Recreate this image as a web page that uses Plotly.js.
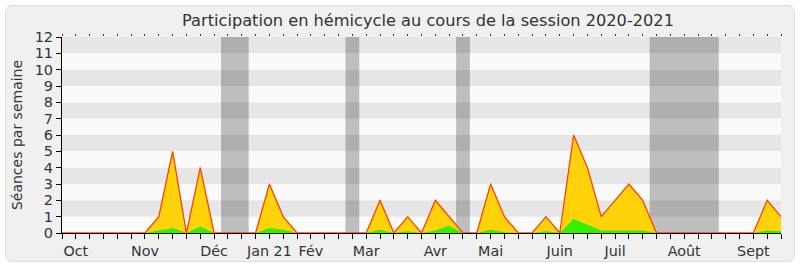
<!DOCTYPE html>
<html>
<head>
<meta charset="utf-8">
<script src="https://cdn.plot.ly/plotly-3.0.1.min.js"></script>
<style>
  html, body { margin:0; padding:0; background:#ffffff; }
  #frame { position:absolute; left:5px; top:5px; width:788px; height:255px;
           background:#f0f0f0; border:1px solid #dcdcdc; border-radius:7px; }
  #chart { position:absolute; left:0; top:0; width:800px; height:267px; }
</style>
</head>
<body>
<div id="frame"></div>
<div id="chart"></div>
<script>
// Weekly data, index 0 = first week of October 2020 ... 52 = end of September 2021
const semaines = Array.from({length: 53}, (_, i) => i);
const presences = [0,0,0,0,0,0,0,1,5,0,4,0,0,0,0,3,1,0,0,0,0,0,0,2,0,1,0,2,1,0,0,3,1,0,0,1,0,6,4,1,2,3,2,0,0,0,0,0,0,0,0,2,1];
const interventions = [0,0,0,0,0,0,0,0.15,0.3,0,0.4,0,0,0,0,0.3,0.2,0,0,0,0,0,0,0.2,0,0.1,0,0.15,0.45,0,0,0.2,0.05,0,0,0.1,0,0.85,0.5,0.15,0.15,0.15,0.15,0,0,0,0,0,0,0,0,0.15,0.1];
const moisPositions = [1,6,11,15,18,22,27,31,36,40,45,50];
const moisLabels = ["Oct","Nov","Déc","Jan 21","Fév","Mar","Avr","Mai","Juin","Juil","Août","Sept"];
const vacances = [[11.5,13.5],[20.5,21.5],[28.5,29.5],[42.5,47.5]];
const yMax = 12;

const FONT = "DejaVu Sans, Verdana, sans-serif";
const shapes = [];
for (let k = 1; k < yMax; k += 2) {
  shapes.push({type:'rect', layer:'below', xref:'paper', yref:'y', x0:0, x1:1, y0:k, y1:k+1,
               fillcolor:'#e6e6e6', line:{width:0}});
}
for (let k = 0; k < yMax; k += 2) {
  shapes.push({type:'rect', layer:'below', xref:'paper', yref:'y', x0:0, x1:1, y0:k, y1:k+1,
               fillcolor:'#fafafa', line:{width:0}});
}
vacances.forEach(v => shapes.push({type:'rect', layer:'below', xref:'x', yref:'paper',
  x0:v[0], x1:v[1], y0:0, y1:1, fillcolor:'rgba(0,0,0,0.24)', line:{width:0}}));

const traces = [
  {x:semaines, y:presences, type:'scatter', mode:'lines', fill:'tozeroy',
   fillcolor:'#ffd20c', line:{color:'#ff4200', width:1.3}, hoverinfo:'skip', showlegend:false},
  {x:semaines, y:interventions, type:'scatter', mode:'lines', fill:'tozeroy',
   fillcolor:'#33f000', line:{color:'#33f000', width:0}, hoverinfo:'skip', showlegend:false},
  {x:semaines, y:presences.map(() => null), xaxis:'x2', type:'scatter', mode:'lines',
   hoverinfo:'skip', showlegend:false}
];

const layout = {
  width:800, height:267,
  margin:{l:62, r:19, t:37, b:34},
  paper_bgcolor:'rgba(0,0,0,0)', plot_bgcolor:'rgba(0,0,0,0)',
  font:{family:FONT, color:'#333333', size:14},
  title:{text:'Participation en hémicycle au cours de la session 2020-2021',
         font:{family:FONT, size:16.2, color:'#333333'}, x:0.535, xanchor:'center', y:0.925, yanchor:'middle'},
  xaxis:{range:[0,52], tickvals:moisPositions, ticktext:moisLabels, ticks:'outside',
         ticklen:5, tickcolor:'#000', tickwidth:1, showline:true, linecolor:'#000', linewidth:1,
         showgrid:false, zeroline:false, fixedrange:true,
         minor:{dtick:1, tick0:0, ticks:'outside', ticklen:5, tickcolor:'#000', tickwidth:1, showgrid:false},
         tickfont:{family:FONT, size:14.3, color:'#333333'}},
  xaxis2:{range:[0,52], overlaying:'x', side:'top', anchor:'y', tickvals:semaines, ticks:'outside',
          ticklen:2, tickcolor:'#333', tickwidth:1, showticklabels:false, showline:false,
          showgrid:false, zeroline:false, fixedrange:true},
  yaxis:{range:[0,yMax], dtick:1, tick0:0, ticks:'outside', ticklen:5, tickcolor:'#000',
         showline:true, linecolor:'#000', linewidth:1, showgrid:false, zeroline:false, fixedrange:true,
         tickfont:{family:FONT, size:14.5, color:'#333333'},
         title:{text:'Séances par semaine', font:{family:FONT, size:14, color:'#333333'}, standoff:8}},
  shapes:shapes
};

Plotly.newPlot('chart', traces, layout, {displayModeBar:false, staticPlot:true});
</script>
</body>
</html>
